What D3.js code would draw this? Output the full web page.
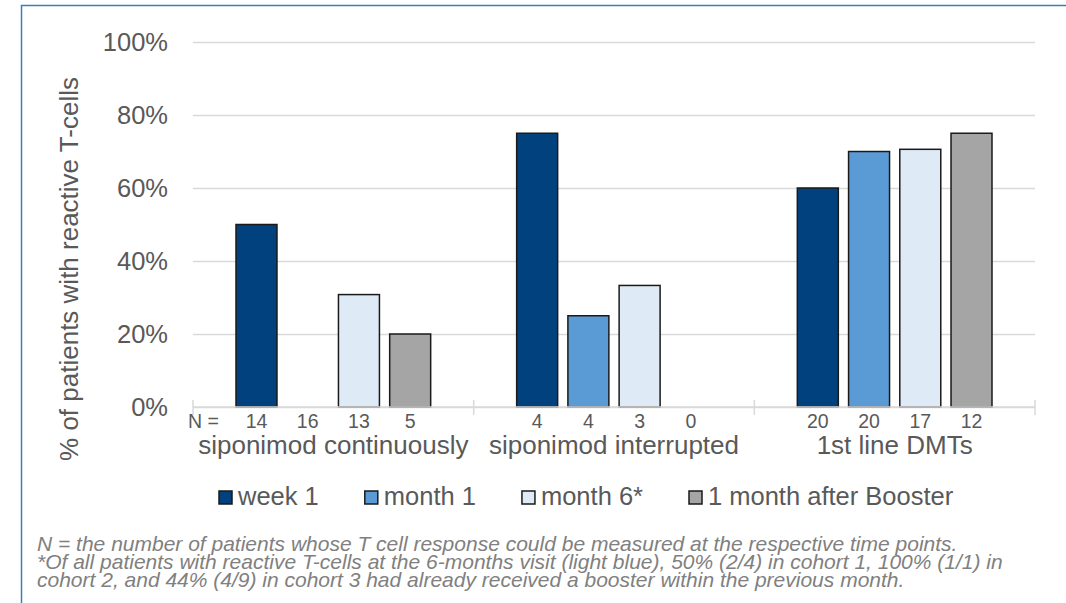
<!DOCTYPE html>
<html>
<head>
<meta charset="utf-8">
<script src="https://cdn.jsdelivr.net/npm/d3@7"></script>
<style>
  body { margin: 0; background: #fff; }
  svg { display: block; font-family: "Liberation Sans", Arial, sans-serif; }
</style>
</head>
<body>
<svg id="chart" width="1066" height="603"></svg>
<script>
// groups and time points
var categories = ['siponimod continuously', 'siponimod interrupted', '1st line DMTs']
var series = ['week 1', 'month 1', 'month 6*', '1 month after Booster']
var colors = ['#00417e', '#5b9bd5', '#deebf7', '#a5a5a5']

// share of patients with reactive T-cells, per group
var week1 = [0.50, 0.75, 0.60]
var month1 = [0.00, 0.25, 0.70]
var month6 = [0.308, 0.333, 0.706]
var booster = [0.20, 0.00, 0.75]

// N per bar
var nWeek1 = [14, 4, 20]
var nMonth1 = [16, 4, 20]
var nMonth6 = [13, 3, 17]
var nBooster = [5, 0, 12]

var yTicks = [0, 0.2, 0.4, 0.6, 0.8, 1]

var footnote = [
  'N = the number of patients whose T cell response could be measured at the respective time points.',
  '*Of all patients with reactive T-cells at the 6-months visit (light blue), 50% (2/4) in cohort 1, 100% (1/1) in',
  'cohort 2, and 44% (4/9) in cohort 3 had already received a booster within the previous month.'
]

var values = [week1, month1, month6, booster]
var counts = [nWeek1, nMonth1, nMonth6, nBooster]

var svg = d3.select('#chart')
var plotLeft = 193, plotRight = 1035, plotTop = 42, plotBottom = 407

// frame lines (top and left)
svg.append('line').attr('x1', 21).attr('x2', 1066).attr('y1', 5.5).attr('y2', 5.5)
  .attr('stroke', '#3a7cc0').attr('stroke-width', 1.5)
svg.append('line').attr('x1', 21.5).attr('x2', 21.5).attr('y1', 5).attr('y2', 603)
  .attr('stroke', '#3a7cc0').attr('stroke-width', 1.5)

var x0 = d3.scaleBand().domain(categories).range([plotLeft, plotRight])
var x1 = d3.scaleBand().domain(series)
  .range([43, x0.bandwidth() - 43]).paddingInner(0.2)
var y = d3.scaleLinear().domain([0, 1]).range([plotBottom, plotTop])

// y axis with gridlines
var yAxis = svg.append('g')
  .attr('transform', 'translate(' + plotLeft + ',0)')
  .call(d3.axisLeft(y).tickValues(yTicks).tickFormat(d3.format('.0%'))
    .tickSize(-(plotRight - plotLeft)).tickPadding(25))
yAxis.select('.domain').remove()
yAxis.selectAll('.tick line').attr('stroke', '#d9d9d9').attr('stroke-width', 1.5)
yAxis.selectAll('.tick text')
  .attr('fill', '#595959').style('font-size', '25.5px')
  .style('font-family', '"Liberation Sans", Arial, sans-serif')

// bars
var groups = svg.selectAll('g.group')
  .data(categories)
  .enter().append('g')
    .attr('class', 'group')
    .attr('transform', (d) => 'translate(' + x0(d) + ',0)')

groups.selectAll('rect')
  .data((d, i) => series.map((s, j) => ({ s: s, v: values[j][i], c: colors[j] })))
  .enter().append('rect')
    .attr('x', (d) => x1(d.s))
    .attr('width', x1.bandwidth())
    .attr('y', (d) => y(d.v))
    .attr('height', (d) => plotBottom - y(d.v))
    .attr('fill', (d) => d.c)
    .attr('stroke', (d) => d.v > 0 ? '#1a1a1a' : 'none')
    .attr('stroke-width', 1.5)

// category axis
svg.append('line').attr('x1', plotLeft).attr('x2', plotRight)
  .attr('y1', plotBottom).attr('y2', plotBottom)
  .attr('stroke', '#d9d9d9').attr('stroke-width', 1.5)
var bounds = categories.map((c) => x0(c)).concat([plotRight])
svg.selectAll('line.xtick')
  .data(bounds)
  .enter().append('line')
    .attr('class', 'xtick')
    .attr('x1', (d) => d).attr('x2', (d) => d)
    .attr('y1', plotBottom - 7).attr('y2', plotBottom + 8)
    .attr('stroke', '#d9d9d9').attr('stroke-width', 1.5)

// N labels
svg.append('text').attr('x', 188).attr('y', 428)
  .attr('fill', '#595959').style('font-size', '19.5px').text('N =')
groups.selectAll('text.n')
  .data((d, i) => series.map((s, j) => ({ s: s, n: counts[j][i] })))
  .enter().append('text')
    .attr('class', 'n')
    .attr('x', (d) => x1(d.s) + x1.bandwidth() / 2)
    .attr('y', 428)
    .attr('text-anchor', 'middle')
    .attr('fill', '#595959').style('font-size', '19.5px')
    .text((d) => d.n)

// category labels
groups.append('text')
  .attr('x', x0.bandwidth() / 2)
  .attr('y', 454)
  .attr('text-anchor', 'middle')
  .attr('fill', '#595959').style('font-size', '26px')
  .text((d) => d)

// y title
svg.append('text')
  .attr('transform', 'translate(78,269) rotate(-90)')
  .attr('text-anchor', 'middle')
  .attr('fill', '#595959').style('font-size', '26px')
  .text('% of patients with reactive T-cells')

// legend
var lx = 219
series.forEach((s, i) => {
  svg.append('rect').attr('x', lx).attr('y', 491).attr('width', 13).attr('height', 13)
    .attr('fill', colors[i]).attr('stroke', '#1a1a1a').attr('stroke-width', 1.5)
  var t = svg.append('text').attr('x', lx + 19).attr('y', 505)
    .attr('fill', '#595959').style('font-size', '25.5px').text(s)
  lx += 19 + t.node().getComputedTextLength() + 46
})

// footnote
svg.selectAll('text.foot')
  .data(footnote)
  .enter().append('text')
    .attr('class', 'foot')
    .attr('x', 37)
    .attr('y', (d, i) => 551 + i * 18)
    .attr('fill', '#808080')
    .style('font-size', '21px').style('font-style', 'italic')
    .text((d) => d)
</script>
</body>
</html>
